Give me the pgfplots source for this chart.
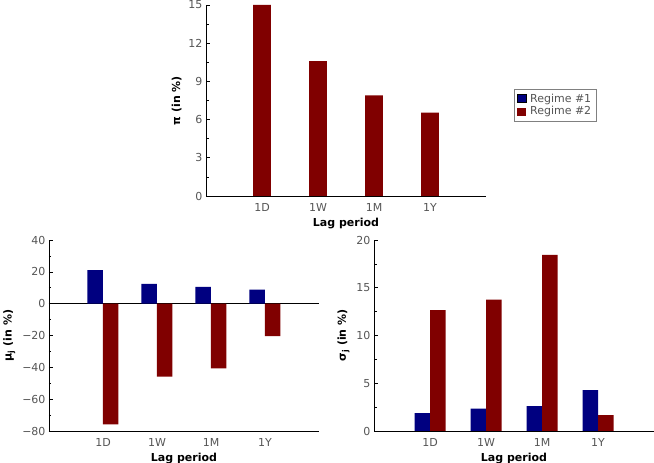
\documentclass[border=0pt]{standalone}
\usepackage{fontspec}
\setmainfont{DejaVu Sans}
\usepackage{pgfplots}
\pgfplotsset{compat=1.18}
\definecolor{regA}{RGB}{0,0,128}
\definecolor{regB}{RGB}{128,0,0}
\definecolor{ticktext}{RGB}{85,85,85}

\pgfplotsset{lagstyle/.style={
    scale only axis, axis lines*=left,
    axis line style={black, line width=0.9pt},
    xmin=0, xmax=5, xtick={1,2,3,4}, xticklabels={1D,1W,1M,1Y},
    major x tick style={draw=none},
    tick align=inside, major tick length=4pt, minor tick length=2.5pt,
    minor y tick num=1, every tick/.style={black, line width=0.6pt},
    ticklabel style={font=\fontsize{11}{13}\selectfont, text=ticktext},
    /pgf/number format/assume math mode=true,
    xlabel={Lag period},
    label style={font=\bfseries\fontsize{11}{13}\selectfont},
    ybar=0pt, bar width=15.5pt,
    legend image code/.code={\fill[##1] (0pt,-4pt) rectangle (8.5pt,4pt); \path (11pt,0pt);},
}}

\begin{document}
\begin{tikzpicture}
\useasboundingbox (0,0) rectangle (654pt,463pt);

% top: pi
\begin{axis}[lagstyle, at={(206pt,267pt)}, anchor=south west,
    width=280pt, height=191pt, ymin=0, ymax=15, ytick={0,3,...,15},
    bar width=17.7pt, ylabel={π (in \%)},
    legend style={at={(1.1,0.56)}, anchor=north west, draw=gray,
      font=\fontsize{11}{12}\selectfont, text=ticktext,
      inner xsep=3pt, inner ysep=3pt, row sep=0pt,
      nodes={inner sep=1.5pt}},
    legend cell align=left]
\addlegendimage{fill=regA}
\addlegendentry{Regime \#1}
\addplot[fill=regB, draw=none] coordinates {(1,15.0) (2,10.6) (3,7.9) (4,6.55)};
\addlegendentry{Regime \#2}
\end{axis}

% bottom left: mu_j
\begin{axis}[lagstyle, at={(49pt,32pt)}, anchor=south west,
    width=270pt, height=191pt, ymin=-80, ymax=40, ytick={-80,-60,...,40},
    yticklabels={−80,−60,−40,−20,0,20,40},
    extra y ticks={0}, extra y tick labels={},
    extra y tick style={grid=major, major grid style={black, line width=0.7pt}},
    ylabel={μ\textsubscript{j} (in \%)}]
\addplot[fill=regA, draw=none] coordinates {(1,21.0) (2,12.4) (3,10.5) (4,8.8)};
\addplot[fill=regB, draw=none] coordinates {(1,-75.8) (2,-45.9) (3,-40.6) (4,-20.4)};
\end{axis}

% bottom right: sigma_j
\begin{axis}[lagstyle, at={(374pt,32pt)}, anchor=south west,
    width=280pt, height=191pt, ymin=0, ymax=20, ytick={0,5,...,20},
    ylabel={σ\textsubscript{j} (in \%)}]
\addplot[fill=regA, draw=none] coordinates {(1,1.88) (2,2.33) (3,2.61) (4,4.29)};
\addplot[fill=regB, draw=none] coordinates {(1,12.65) (2,13.76) (3,18.43) (4,1.67)};
\end{axis}
\end{tikzpicture}
\end{document}
